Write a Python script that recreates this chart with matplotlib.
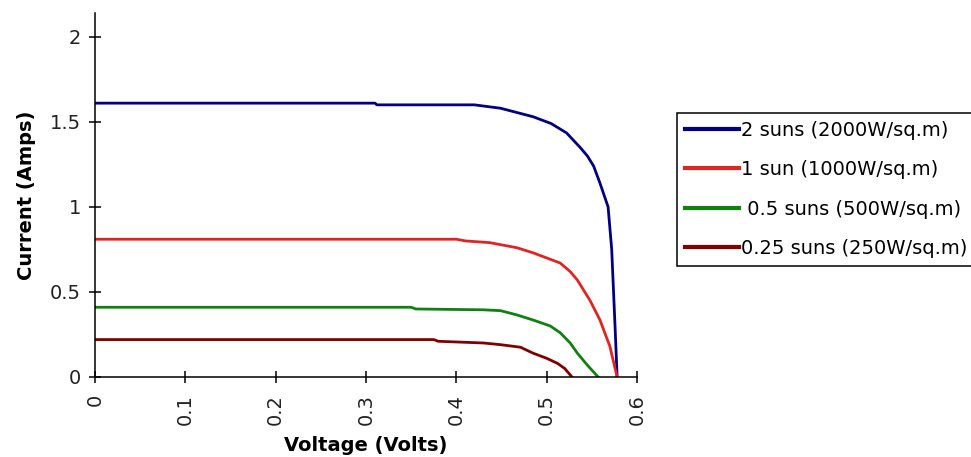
import matplotlib
matplotlib.use("Agg")
import matplotlib.pyplot as plt

# I-V curves
v_2sun = [0, 0.31, 0.312, 0.42, 0.449, 0.485, 0.505, 0.522, 0.537, 0.545, 0.552, 0.559, 0.568, 0.572, 0.576, 0.578]
i_2sun = [1.61, 1.61, 1.60, 1.60, 1.58, 1.53, 1.49, 1.435, 1.35, 1.30, 1.24, 1.14, 1.0, 0.75, 0.26, 0.0]

v_1sun = [0, 0.40, 0.41, 0.437, 0.467, 0.485, 0.515, 0.526, 0.534, 0.548, 0.559, 0.570, 0.578]
i_1sun = [0.81, 0.81, 0.80, 0.79, 0.76, 0.73, 0.67, 0.62, 0.57, 0.45, 0.335, 0.18, 0.0]

v_half = [0, 0.35, 0.355, 0.43, 0.449, 0.467, 0.485, 0.504, 0.515, 0.526, 0.534, 0.545, 0.557]
i_half = [0.41, 0.41, 0.40, 0.395, 0.39, 0.365, 0.335, 0.30, 0.26, 0.20, 0.14, 0.07, 0.0]

v_quarter = [0, 0.375, 0.38, 0.43, 0.449, 0.471, 0.485, 0.50, 0.512, 0.520, 0.528]
i_quarter = [0.22, 0.22, 0.21, 0.20, 0.19, 0.175, 0.14, 0.11, 0.08, 0.05, 0.0]

labels = ["2 suns (2000W/sq.m)", "1 sun (1000W/sq.m)",
          " 0.5 suns (500W/sq.m)", "0.25 suns (250W/sq.m)"]
colors = ["#000080", "#e02424", "#108010", "#800000"]

x_ticks = [0, 0.1, 0.2, 0.3, 0.4, 0.5, 0.6]
y_ticks = [0, 0.5, 1, 1.5, 2]
y_ticklabels = ["0", "0.5", "1", "1.5", "2"]

plt.rcParams["font.family"] = ["DejaVu Sans"]

fig = plt.figure(figsize=(9.71, 4.57), dpi=100)
ax = fig.add_axes([95 / 971, 80 / 457, 542 / 971, 364 / 457])

series = [(v_2sun, i_2sun), (v_1sun, i_1sun), (v_half, i_half), (v_quarter, i_quarter)]
for (v, i), lab, c in zip(series, labels, colors):
    ax.plot(v, i, color=c, lw=2, label=lab)

ax.set_xlim(0, 0.6)
ax.set_ylim(0, 2.14)
ax.set_xticks(x_ticks)
ax.set_xticklabels([str(t) for t in x_ticks], rotation=90)
ax.set_yticks(y_ticks)
ax.set_yticklabels(y_ticklabels)
ax.tick_params(direction="inout", length=8, width=1.1, labelsize=14,
               colors="black", labelcolor="#222222")
ax.tick_params(axis="y", pad=6)
ax.tick_params(axis="x", pad=8)

for s in ["top", "right"]:
    ax.spines[s].set_visible(False)
for s in ["left", "bottom"]:
    ax.spines[s].set_linewidth(1.1)

ax.set_xlabel("Voltage (Volts)", fontsize=14, fontweight="bold", labelpad=8)
ax.set_ylabel("Current (Amps)", fontsize=14, fontweight="bold", labelpad=10)

leg = ax.legend(loc="upper left", bbox_to_anchor=(677 / 971, 1 - 113 / 457),
                bbox_transform=fig.transFigure, borderaxespad=0,
                fontsize=14, handlelength=2.8, handletextpad=0.1,
                labelspacing=1.05, borderpad=0.4, fancybox=False,
                framealpha=1, edgecolor="black")
leg.get_frame().set_linewidth(1.1)
for line in leg.get_lines():
    line.set_linewidth(3)

fig.savefig("out.png", dpi=100)
